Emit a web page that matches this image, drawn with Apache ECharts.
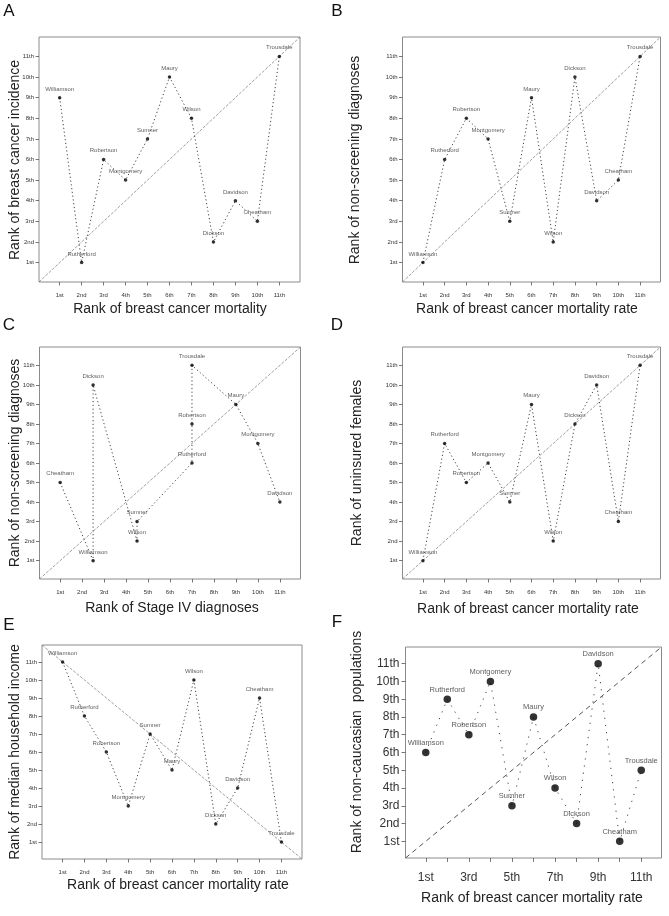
<!DOCTYPE html>
<html><head><meta charset="utf-8">
<script src="https://cdn.jsdelivr.net/npm/echarts@6/dist/echarts.min.js"></script>
<style>html,body{margin:0;padding:0;background:#fff}#c{width:669px;height:916px}</style>
</head><body><div id="c"></div>
<script>
// ---- data ----
const counties = ['Williamson','Rutherford','Robertson','Montgomery','Sumner','Maury','Wilson','Dickson','Davidson','Cheatham','Trousdale'];
const mortalityRank    = [1, 2, 3, 4, 5, 6, 7, 8, 9, 10, 11];
const incidenceRank    = [9, 1, 6, 5, 7, 10, 8, 2, 4, 3, 11];
const nonScreeningRank = [1, 6, 8, 7, 3, 9, 2, 10, 4, 5, 11];
const stageIVRank      = [2.5, 7, 7, 10, 4.5, 9, 4.5, 2.5, 11, 1, 7];
const uninsuredRank    = [1, 7, 5, 6, 4, 9, 2, 8, 10, 3, 11];
const incomeRank       = [11, 8, 6, 3, 7, 5, 10, 2, 4, 9, 1];
const nonCaucasianRank = [6, 9, 7, 10, 3, 8, 4, 2, 11, 1, 5];
const rankTicks  = [1, 2, 3, 4, 5, 6, 7, 8, 9, 10, 11];
const rankLabels = ['1st','2nd','3rd','4th','5th','6th','7th','8th','9th','10th','11th'];
const axisMin = 0.06, axisMax = 11.94;

const panels = [
  {letter:'A', x: mortalityRank, y: incidenceRank,    xTitle:'Rank of breast cancer mortality',      yTitle:'Rank of breast cancer incidence'},
  {letter:'B', x: mortalityRank, y: nonScreeningRank, xTitle:'Rank of breast cancer mortality rate', yTitle:'Rank of non-screening diagnoses'},
  {letter:'C', x: stageIVRank,   y: nonScreeningRank, xTitle:'Rank of Stage IV diagnoses',           yTitle:'Rank of non-screening diagnoses'},
  {letter:'D', x: mortalityRank, y: uninsuredRank,    xTitle:'Rank of breast cancer mortality rate', yTitle:'Rank of uninsured females'},
  {letter:'E', x: mortalityRank, y: incomeRank,       xTitle:'Rank of breast cancer mortality rate', yTitle:'Rank of median household income', reverseDiag:true},
  {letter:'F', x: mortalityRank, y: nonCaucasianRank, xTitle:'Rank of breast cancer mortality rate', yTitle:'Rank of non-caucasian  populations', big:true}
];

// ---- layout (pixels) ----
const layout = [
  {grid:{left:39,   top:37,  width:261, height:245}, letter:[9,11],   xt:[170,309], yt:[15,160]},
  {grid:{left:402.5,top:37,  width:258, height:245}, letter:[337,11], xt:[527,309], yt:[355,160]},
  {grid:{left:39.5, top:347, width:261, height:232}, letter:[9,325],  xt:[172,608], yt:[15,463]},
  {grid:{left:402.5,top:347, width:258, height:232}, letter:[337,325],xt:[528,609], yt:[357,463]},
  {grid:{left:42,   top:645, width:260, height:214}, letter:[9,625],  xt:[178,885], yt:[15,752]},
  {grid:{left:405.5,top:647, width:256, height:211}, letter:[337,622],xt:[532,898], yt:[357,742]}
];

const FONT = '"Liberation Sans", Arial, Helvetica, sans-serif';
const grids = [], xAxes = [], yAxes = [], series = [], graphics = [];

panels.forEach((p, i) => {
  const L = layout[i];
  grids.push(Object.assign({show:true, borderColor:'#8c8c8c', borderWidth:1, backgroundColor:'transparent'}, L.grid));
  const tickFs = p.big ? 12 : 6;
  const common = {
    gridIndex:i, type:'value', min:axisMin, max:axisMax,
    axisLine:{show:false}, splitLine:{show:false},
    axisTick:{show:true, customValues:rankTicks, length: p.big ? 4 : 3.5, lineStyle:{color:'#555', width:0.8}},
  };
  xAxes.push(Object.assign({}, common, {
    axisLabel:{customValues: p.big ? [1,3,5,7,9,11] : rankTicks, formatter:v => rankLabels[Math.round(v)-1],
      fontSize:tickFs, color:'#333', fontFamily:FONT, margin: p.big ? 14 : 10}
  }));
  yAxes.push(Object.assign({}, common, {
    axisLabel:{customValues:rankTicks, formatter:v => rankLabels[Math.round(v)-1],
      fontSize:tickFs, color:'#333', fontFamily:FONT, margin: p.big ? 6 : 5}
  }));

  const pts = counties.map((c, k) => ({name:c, x:p.x[k], y:p.y[k]}));
  const ordered = pts.slice().sort((a, b) => a.x - b.x || a.y - b.y);

  series.push({
    type:'line', xAxisIndex:i, yAxisIndex:i, silent:true, symbol:'none', z:2,
    data: ordered.map(d => [d.x, d.y]),
    lineStyle:{color:'#444', width:1, type: p.big ? [1.2, 6] : [1.2, 2.6]}
  });
  series.push({
    type:'line', xAxisIndex:i, yAxisIndex:i, silent:true, symbol:'none', z:1,
    data: p.reverseDiag ? [[axisMin, axisMax],[axisMax, axisMin]] : [[axisMin, axisMin],[axisMax, axisMax]],
    lineStyle: p.big ? {color:'#555', width:1, type:[5,4]} : {color:'#777', width:0.7, type:[3,1.5]}
  });
  series.push({
    type:'scatter', xAxisIndex:i, yAxisIndex:i, silent:true, z:3,
    symbol:'circle', symbolSize: p.big ? 7.5 : 3.5,
    itemStyle:{color:'#000'},
    data: pts.map(d => ({name:d.name, value:[d.x, d.y]})),
    label:{show:true, formatter:'{b}', position:'top', distance: p.big ? 2 : 4,
      fontSize: p.big ? 7.5 : 6, color:'#333', fontFamily:FONT}
  });

  graphics.push({type:'text', x:L.letter[0], y:L.letter[1],
    style:{text:p.letter, fontSize:17, fontFamily:FONT, fill:'#111', align:'center', verticalAlign:'middle'}});
  graphics.push({type:'text', x:L.xt[0], y:L.xt[1],
    style:{text:p.xTitle, fontSize:14, fontFamily:FONT, fill:'#222', align:'center', verticalAlign:'middle'}});
  graphics.push({type:'text', x:L.yt[0], y:L.yt[1], rotation:Math.PI/2,
    style:{text:p.yTitle, fontSize:14, fontFamily:FONT, fill:'#222', align:'center', verticalAlign:'middle'}});
});

const chart = echarts.init(document.getElementById('c'), null, {renderer:'canvas'});
chart.setOption({
  backgroundColor:'#fff', animation:false,
  grid:grids, xAxis:xAxes, yAxis:yAxes, series:series, graphic:graphics
});
</script></body></html>
